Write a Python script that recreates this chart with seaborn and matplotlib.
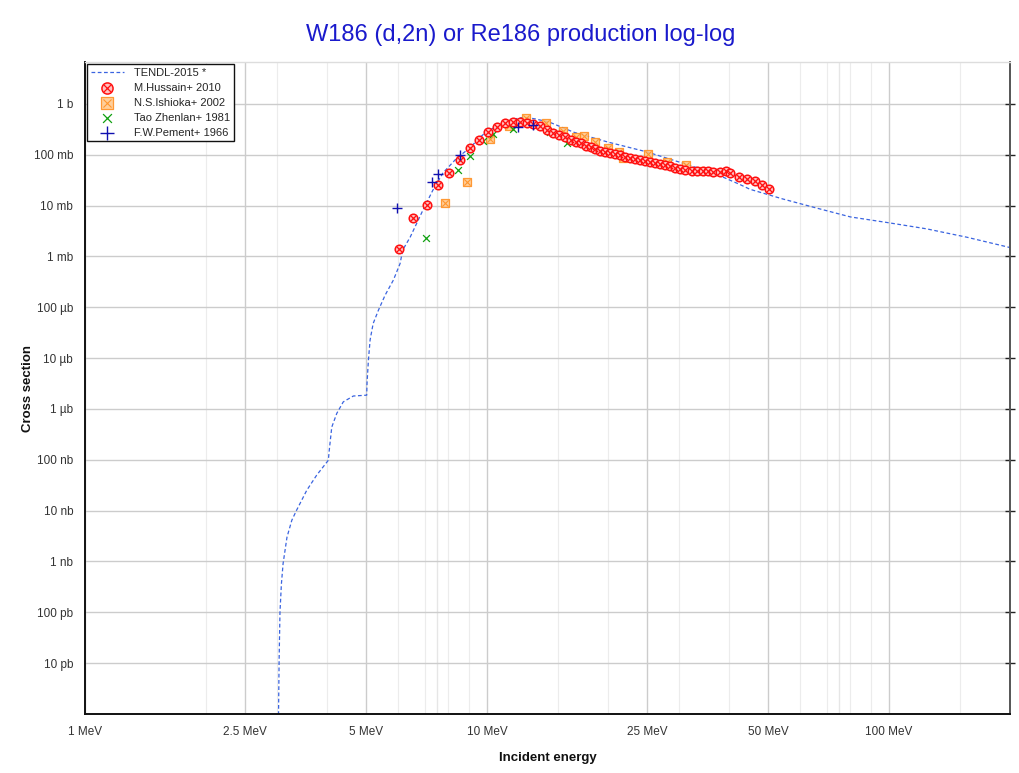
import numpy as np
import pandas as pd
import matplotlib
matplotlib.use("Agg")
import matplotlib.pyplot as plt
import seaborn as sns
from matplotlib.ticker import FixedLocator, NullFormatter

# ---------------- data (MeV, barns) ----------------
tendl_E = [2.96, 3.03, 3.04, 3.055, 3.08, 3.11, 3.18, 3.27, 3.36, 3.56, 3.77, 4.03,
           4.05, 4.11, 4.23, 4.39, 4.65, 5.02, 5.03, 5.07, 5.12, 5.21, 5.37, 5.58,
           5.85, 6.08, 6.17, 6.44, 6.93, 7.33, 7.77, 8.42, 9.06, 9.6, 10.0, 10.97,
           11.74, 12.4, 13.16, 14.3, 16.4, 19.9, 25.0, 30.6, 36.6, 42.6, 45.1, 54.5,
           66.3, 80.2, 100.0, 124.0, 156.0, 200.0]
tendl_xs = [1e-13, 1e-12, 1.15e-11, 1.0e-10, 3.6e-10, 9.1e-10, 3.0e-9, 6.5e-9, 1.02e-8,
            2.5e-8, 5.0e-8, 9.8e-8, 1.5e-7, 4.4e-7, 8.2e-7, 1.38e-6, 1.8e-6, 1.87e-6,
            3.2e-6, 9.1e-6, 2.3e-5, 4.8e-5, 8.8e-5, 1.74e-4, 3.44e-4, 7.3e-4, 1.34e-3,
            2.4e-3, 8.2e-3, 0.020, 0.044, 0.087, 0.136, 0.22, 0.29, 0.42, 0.51, 0.55,
            0.51, 0.44, 0.28, 0.18, 0.114, 0.069, 0.044, 0.026, 0.021, 0.0135, 0.0089,
            0.006, 0.0046, 0.0035, 0.0024, 0.0015]

hussain_E = [6.04, 6.55, 7.09, 7.55, 8.05, 8.57, 9.07, 9.55, 10.06, 10.59, 11.09, 11.61,
             12.08, 12.58, 13.02, 13.55, 14.10, 14.60, 15.11, 15.63, 16.18, 16.65, 17.13,
             17.63, 18.14, 18.56, 19.10, 19.66, 20.23, 20.82, 21.42, 22.04, 22.69, 23.35,
             24.03, 24.72, 25.44, 26.18, 26.94, 27.72, 28.52, 29.36, 30.21, 31.09, 32.36,
             33.30, 34.46, 35.46, 36.50, 37.98, 39.31, 40.22, 42.37, 44.36, 46.42, 48.32,
             50.29]
hussain_xs = [1.40e-3, 5.70e-3, 0.0103, 0.0255, 0.0438, 0.079, 0.136, 0.196, 0.281, 0.353,
              0.423, 0.442, 0.442, 0.423, 0.404, 0.369, 0.308, 0.269, 0.245, 0.224, 0.196,
              0.179, 0.171, 0.149, 0.142, 0.130, 0.119, 0.1135, 0.108, 0.1037, 0.0991,
              0.0905, 0.0865, 0.0827, 0.0790, 0.0755, 0.0722, 0.0690, 0.0659, 0.0630,
              0.0602, 0.0550, 0.0525, 0.0502, 0.0480, 0.0480, 0.0480, 0.0480, 0.0459,
              0.0459, 0.0480, 0.0438, 0.0366, 0.0334, 0.0305, 0.0255, 0.0212]

ishioka_E = [7.86, 8.92, 10.17, 11.34, 12.5, 14.02, 15.45, 16.65, 17.43, 18.56, 20.0,
             21.3, 21.8, 25.15, 28.0, 31.3, 33.9]
ishioka_xs = [0.0112, 0.0292, 0.205, 0.369, 0.53, 0.423, 0.294, 0.224, 0.235, 0.179,
              0.136, 0.1135, 0.0865, 0.104, 0.072, 0.063, 0.048]

tao_E = [7.05, 8.47, 9.07, 9.77, 10.35, 11.61, 14.35, 15.8]
tao_xs = [2.30e-3, 0.050, 0.0947, 0.187, 0.257, 0.322, 0.281, 0.171]

pement_E = [5.97, 7.30, 7.55, 8.57, 11.94, 13.0]
pement_xs = [8.97e-3, 0.0292, 0.0419, 0.099, 0.352, 0.386]

series_labels = ["TENDL-2015 *", "M.Hussain+ 2010", "N.S.Ishioka+ 2002",
                 "Tao Zhenlan+ 1981", "F.W.Pement+ 1966"]

y_tick_vals = [1e0, 1e-1, 1e-2, 1e-3, 1e-4, 1e-5, 1e-6, 1e-7, 1e-8, 1e-9, 1e-10, 1e-11]
y_tick_labels = ["1 b", "100 mb", "10 mb", "1 mb", "100 µb", "10 µb", "1 µb",
                 "100 nb", "10 nb", "1 nb", "100 pb", "10 pb"]
x_tick_vals = [1, 2.5, 5, 10, 25, 50, 100]
x_tick_labels = ["1 MeV", "2.5 MeV", "5 MeV", "10 MeV", "25 MeV", "50 MeV", "100 MeV"]
x_extra_major = [7.5, 75]
minor_x = [2, 3, 4, 6, 7, 8, 9, 15, 20, 30, 40, 60, 70, 80, 90, 150, 200]

# ---------------- plot ----------------
sns.set_theme(style="white")
plt.rcParams['font.family'] = ['Liberation Sans', 'DejaVu Sans']

fig = plt.figure(figsize=(10.2, 7.73), dpi=100)
ax = fig.add_axes([85 / 1020, 1 - 714 / 773, 925 / 1020, 652 / 773])
ax.set_xscale("log")
ax.set_yscale("log")

tendl = pd.DataFrame({"E": tendl_E, "xs": tendl_xs})
hus = pd.DataFrame({"E": hussain_E, "xs": hussain_xs})
ish = pd.DataFrame({"E": ishioka_E, "xs": ishioka_xs})
tao = pd.DataFrame({"E": tao_E, "xs": tao_xs})
pem = pd.DataFrame({"E": pement_E, "xs": pement_xs})

sns.lineplot(data=tendl, x="E", y="xs", ax=ax, color="#3a64e0", lw=0.9,
             linestyle=(0, (3, 2)), sort=False, zorder=2)
h_line = ax.lines[-1]

sns.scatterplot(data=ish, x="E", y="xs", ax=ax, marker="s", s=38,
                facecolor="#ffc78a", edgecolor="#ff8c1a", linewidth=0.9, alpha=0.85, zorder=3)
h_ish1 = ax.collections[-1]
sns.scatterplot(data=ish, x="E", y="xs", ax=ax, marker="x", s=20,
                color="#ff8c1a", linewidth=0.8, alpha=0.85, zorder=3)
h_ish2 = ax.collections[-1]

sns.scatterplot(data=tao, x="E", y="xs", ax=ax, marker="x", s=24,
                color="#10a010", linewidth=0.9, zorder=4)
h_tao = ax.collections[-1]

sns.scatterplot(data=hus, x="E", y="xs", ax=ax, marker="o", s=38,
                facecolor="#ffc0c0", edgecolor="#ff1010", linewidth=1.1, zorder=5)
h_hus1 = ax.collections[-1]
sns.scatterplot(data=hus, x="E", y="xs", ax=ax, marker="x", s=15,
                color="#ff1010", linewidth=0.9, zorder=5)
h_hus2 = ax.collections[-1]

sns.scatterplot(data=pem, x="E", y="xs", ax=ax, marker="+", s=60,
                color="#1010b0", linewidth=1.0, zorder=6)
h_pem = ax.collections[-1]

ax.set_xlim(1, 200)
ax.set_ylim(1e-12, 6.7)

# ticks
ax.xaxis.set_major_locator(FixedLocator(x_tick_vals + x_extra_major))
ax.set_xticklabels(x_tick_labels + [""] * len(x_extra_major))
ax.xaxis.set_minor_locator(FixedLocator(minor_x))
ax.xaxis.set_minor_formatter(NullFormatter())
ax.yaxis.set_major_locator(FixedLocator(y_tick_vals))
ax.set_yticklabels(y_tick_labels)
ax.yaxis.set_minor_locator(FixedLocator([]))

ax.tick_params(axis="both", which="major", direction="inout", length=7, width=1,
               labelsize=8.5, labelcolor="#333333", color="#222222", pad=5)
ax.tick_params(axis="x", which="minor", direction="in", length=4, width=0.8, color="#222222")
ax.tick_params(axis="y", which="major", right=True)

ax.grid(True, which="major", color="#cccccc", lw=1.0, zorder=0)
ax.grid(True, which="minor", axis="x", color="#ececec", lw=0.8, zorder=0)
for gl, v in zip(ax.xaxis.get_gridlines(), x_tick_vals + x_extra_major):
    if v in x_extra_major:
        gl.set_color("#e6e6e6")
ax.set_axisbelow(True)

for s in ["left", "bottom"]:
    ax.spines[s].set_color("#111111")
    ax.spines[s].set_linewidth(1.4)
ax.spines["right"].set_color("#555555")
ax.spines["right"].set_linewidth(1.4)
ax.spines["top"].set_color("#dddddd")
ax.spines["top"].set_linewidth(1.0)

ax.set_xlabel("Incident energy", fontsize=9.5, fontweight="bold", color="#111111")
ax.set_ylabel("Cross section", fontsize=9.5, fontweight="bold", color="#111111")
ax.xaxis.set_label_coords(0.5, (714 - 752) / 652)
ax.yaxis.set_label_coords((34 - 85) / 925, 0.5)

fig.text(0.51, 1 - 35 / 773, "W186 (d,2n) or Re186 production log-log",
         ha="center", va="center", fontsize=17, color="#1a1acc")

leg = ax.legend(handles=[h_line, (h_hus1, h_hus2), (h_ish1, h_ish2), h_tao, h_pem],
                labels=series_labels, loc="upper left", fontsize=8,
                frameon=True, fancybox=False, edgecolor="#111111", framealpha=1,
                borderaxespad=0.15, handlelength=3.0, labelspacing=0.45,
                borderpad=0.35, handletextpad=0.9, markerscale=1.3)
leg.get_frame().set_linewidth(1.0)

fig.savefig("out.png", dpi=100, facecolor="white")
